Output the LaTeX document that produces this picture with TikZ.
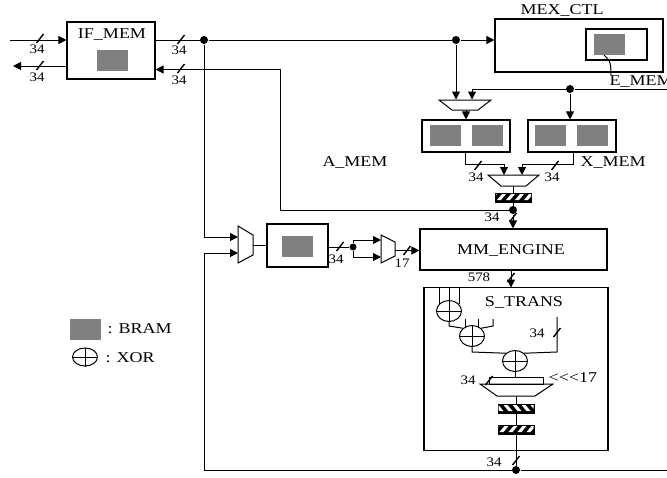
\documentclass[tikz,border=0pt]{standalone}
\usepackage{fontspec}
\setmainfont{Liberation Serif}
\usetikzlibrary{arrows.meta}
\tikzset{
  box/.style={draw,line width=1.1pt,inner sep=0pt,minimum width=#1},
  bram/.style={fill=black!50,draw=none,inner sep=0pt,minimum width=31pt,minimum height=21pt},
  lbl/.style={font=\fontsize{15}{15}\selectfont,inner sep=0pt,xscale=1.2,transform shape},
  num/.style={font=\fontsize{13}{13}\selectfont,inner sep=0pt,xscale=1.15,transform shape},
  dot/.style={circle,fill=black,inner sep=0pt,minimum width=#1},
  dot/.default=8pt,
  xorgate/.style={draw,ellipse,line width=1pt,inner sep=0pt,minimum width=25pt,minimum height=21pt}
}
\usetikzlibrary{shapes.geometric}
\newcommand{\busmark}[2]{\draw[line width=1.4pt] (#1-3.5,#2+4) -- (#1+3.5,#2-5);}
\newcommand{\xorcross}[1]{\draw[line width=0.8pt] (#1.north) -- (#1.south) (#1.west) -- (#1.east);}
\newcommand{\regbar}[3]{%
  \fill (#1,#2) rectangle (#1+37,#2+10);
  \begin{scope}
  \clip (#1+1,#2+1) rectangle (#1+36,#2+7);
  \foreach \i in {-1,...,4}
    \fill[white] (#1+\i*9+2,#2+7) -- (#1+\i*9+6,#2+7) -- (#1+\i*9+6+#3,#2+1) -- (#1+\i*9+2+#3,#2+1) -- cycle;
  \end{scope}}
\begin{document}
\begin{tikzpicture}[x=1pt,y=-1pt,line width=1pt,>={Triangle[length=8pt,width=8pt]}]
\useasboundingbox (0,0) rectangle (667,477);
\clip (0,0) rectangle (667,477);

\node[box=88pt,minimum height=57pt] (ifmem) at (111,50.5) {};
\node[lbl] (ifmemlabel) at (112,35) {IF\_MEM};
\node[bram] (ifbram) at (112.5,60.5) {};
\coordinate (inleft) at (10,40);
\coordinate (outleft) at (13,66);
\draw[->] (inleft) -- (inleft-|ifmem.west);
\draw[->] (outleft-|ifmem.west) -- (outleft);
\busmark{40}{39}
\busmark{40}{66}
\node[num] (n1) at (37,49.5) {34};
\node[num] (n2) at (37,77) {34};

\node[box=168pt,minimum height=53pt] (mexctl) at (579,45.5) {};
\node[lbl] (mexlabel) at (562,10) {MEX\_CTL};
\node[box=61pt,minimum height=31pt] (emem) at (616.5,44.5) {};
\node[bram] (ebram) at (609.5,44.5) {};
\node[lbl,anchor=west] (ememlabel) at (609,82) {E\_MEM};
\draw (604,55) .. controls (608,60) and (611,58) .. (611,75);

\node[dot] (split) at (204,40) {};
\node[dot] (tap) at (456,40) {};
\draw (ifmem.east|-split) -- (split) -- (tap);
\draw[->] (tap) -- (tap-|mexctl.west);
\busmark{181}{40}
\node[num] (n3) at (179,50) {34};

\coordinate (loopright) at (667,89);
\node[dot] (xtap) at (570,89) {};
\coordinate (amuxb) at (472,89);
\draw (loopright) -- (xtap) -- (amuxb);
\draw[->] (amuxb) -- (472,99.5);
\draw[->] (tap) -- (456,99.5);

\draw (439,100) -- (491,100) -- (478,110) -- (452,110) -- cycle;
\node[box=88pt,minimum height=32pt] (amem) at (466,136) {};
\node[bram] (abram1) at (445.5,135.5) {};
\node[bram] (abram2) at (487.5,135.5) {};
\node[box=88pt,minimum height=32pt] (xmem) at (572,136) {};
\node[bram] (xbram1) at (550.5,135.5) {};
\node[bram] (xbram2) at (592.5,135.5) {};
\coordinate (amuxout) at (466,110);
\draw[->] (amuxout) -- (amem.north);
\draw[->] (xtap) -- (xtap|-xmem.north);
\node[lbl] (amemlabel) at (355,163) {A\_MEM};
\node[lbl,anchor=west] (xmemlabel) at (580,163) {X\_MEM};

\coordinate (acorner) at (465,164);
\coordinate (xcorner) at (573,164);
\draw[->] (acorner|-amem.south) -- (acorner) -- (504,164) -- (504,175);
\draw[->] (xcorner|-xmem.south) -- (xcorner) -- (522,164) -- (522,175);
\busmark{478}{166}
\busmark{555}{166}
\node[num] (n4) at (476,177) {34};
\node[num] (n5) at (552,177) {34};
\draw (488,175) -- (539,175) -- (526,186) -- (501,186) -- cycle;
\regbar{495}{193}{5}

\node[box=187pt,minimum height=41pt] (engine) at (513.5,249.5) {};
\node[lbl] (enginelabel) at (511,250) {MM\_ENGINE};
\node[dot] (mtap) at (513,210) {};
\coordinate (regtop) at (513,186);
\draw (regtop) -- (513,193);
\draw (513,202) -- (mtap);
\draw[->] (mtap) -- (mtap|-engine.north);
\busmark{513}{218}
\node[num] (n6) at (492,217) {34};

\coordinate (backup) at (280,69.5);
\draw[->] (mtap) -- (280,210) -- (backup) -- (backup-|ifmem.east);
\busmark{181}{69}
\node[num] (n7) at (179,80) {34};

\draw (238,226) -- (253,235) -- (253,255) -- (238,263) -- cycle;
\node[box=61pt,minimum height=43pt] (fetch) at (297.5,245.5) {};
\node[bram] (fbram) at (297.5,246.5) {};
\coordinate (muxaout) at (253,245.5);
\draw (muxaout) -- (fetch.west);
\coordinate (firstin) at (238,237);
\coordinate (secondin) at (238,253);
\coordinate (backleft) at (204,470);
\draw[->] (split) -- (204,237) -- (firstin);
\draw[->] (backleft) -- (204,253) -- (secondin);

\node[dot=7pt] (ftap) at (353,247) {};
\draw (fetch.east|-ftap) -- (ftap);
\busmark{340}{247}
\node[num] (n8) at (336,259) {34};
\draw[->] (ftap) -- (353,240) -- (381,240);
\draw[->] (ftap) -- (353,257) -- (381,257);
\draw (381,235) -- (395,242) -- (395,256) -- (381,263) -- cycle;
\coordinate (muxbout) at (395,250.5);
\draw[->] (muxbout) -- (muxbout-|engine.west);
\busmark{407}{251}
\node[num] (n9) at (402,263) {17};

\node[box=184pt,minimum height=163pt] (strans) at (516,369) {};
\node[lbl] (stranslabel) at (524,302) {S\_TRANS};
\draw[->] (511,270) -- (511,287.5);
\busmark{511}{278}
\node[num] (n10) at (479,277) {578};

\node[xorgate] (xora) at (449,311) {};
\node[xorgate] (xorb) at (472,336) {};
\node[xorgate] (xorc) at (515,361) {};
\xorcross{xora}
\xorcross{xorb}
\xorcross{xorc}
\draw (439,288) -- (439,304);
\draw (449,288) -- (xora.north);
\draw (459,288) -- (459,304);
\draw (xora.south) -- (449,326) -- (xorb.north west);
\draw (465,319) -- (465,327);
\draw (478,319) -- (478,327);
\draw (493,319) -- (493,326) -- (xorb.north east);
\draw (xorb.south) -- (472,352) -- (xorc.north west);
\draw (557,317) -- (557,352) -- (xorc.north east);
\busmark{557}{333}
\node[num] (n11) at (537,333) {34};

\coordinate (shifttop) at (515,377);
\draw (xorc.south) -- (shifttop);
\draw (489,377) rectangle (543,384);
\draw (480,384) -- (553,384) -- (535,396) -- (497,396) -- cycle;
\busmark{489}{381}
\node[num] (n12) at (468,380) {34};
\node[lbl,anchor=west] (shiftlabel) at (548,378) {{<}{<}{<}17};
\node[dot] (btap) at (516,470) {};
\draw (516,396) -- (btap);
\regbar{497.5}{404}{-5}
\regbar{497.5}{425}{5}
\busmark{516}{461}
\node[num] (n13) at (494,462) {34};
\coordinate (backright) at (667,470);
\draw (backleft) -- (btap) -- (backright);

\node[bram] (legbram) at (85.5,329.5) {};
\node[lbl,anchor=west] (legbramlabel) at (107,329) {: BRAM};
\node[xorgate,minimum height=18pt] (legxor) at (85,357) {};
\xorcross{legxor}
\node[lbl,anchor=west] (legxorlabel) at (105,358) {: XOR};
\end{tikzpicture}
\end{document}
